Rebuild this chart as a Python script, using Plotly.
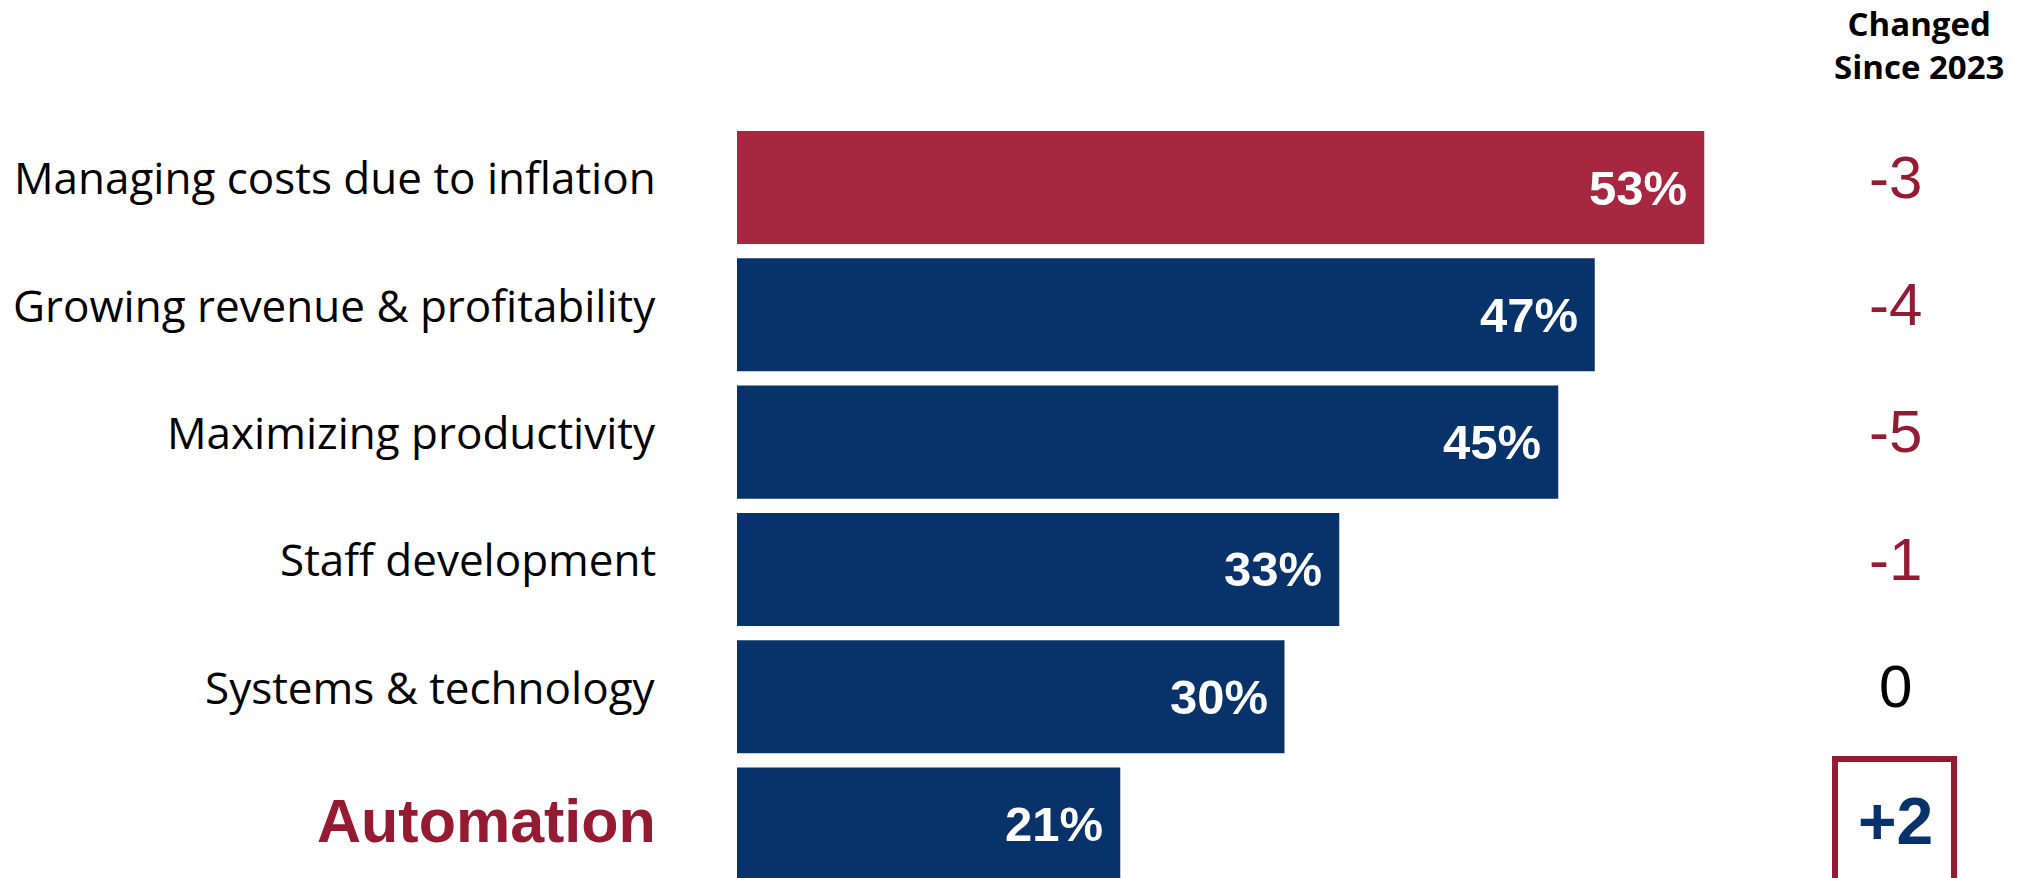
import plotly.graph_objects as go

# Survey data: share of respondents naming each priority, and change since 2023
categories = [
    "Managing costs due to inflation",
    "Growing revenue & profitability",
    "Maximizing productivity",
    "Staff development",
    "Systems & technology",
    "Automation",
]
shares = [53, 47, 45, 33, 30, 21]
changes = ["-3", "-4", "-5", "-1", "0", "+2"]

RED_BAR = "#A6273F"
NAVY = "#07336A"
DARK_RED = "#951B32"

W, H = 2037, 878
rows = list(range(len(categories)))
bar_colors = [RED_BAR] + [NAVY] * (len(categories) - 1)

fig = go.Figure(
    go.Bar(
        x=shares,
        y=rows,
        orientation="h",
        width=0.888,
        marker=dict(color=bar_colors, line=dict(width=0)),
        hoverinfo="skip",
    )
)

annotations = []
for i, (cat, val, chg) in enumerate(zip(categories, shares, changes)):
    highlight = cat == "Automation"
    text_dy = -0.02 if highlight else -0.08
    # category label on the left
    annotations.append(dict(
        x=658 / W, xref="paper", y=i + text_dy, yref="y",
        text=f"<b>{cat}</b>" if highlight else cat,
        xanchor="right", yanchor="middle", showarrow=False,
        font=dict(
            family="Liberation Sans" if highlight else "Open Sans",
            size=61 if highlight else 44,
            color=DARK_RED if highlight else "#000000",
        ),
    ))
    # value label inside the bar end
    annotations.append(dict(
        x=val, xref="x", y=i, yref="y",
        text=f"<b>{val}%</b>", xanchor="right", yanchor="middle",
        xshift=-15, showarrow=False,
        font=dict(family="Liberation Sans", size=49, color="#FFFFFF"),
    ))
    # change since 2023 column
    if chg.startswith("+"):
        ctext, ccolor, csize = f"<b>{chg}</b>", NAVY, 66
    elif chg == "0":
        ctext, ccolor, csize = chg, "#000000", 60
    else:
        ctext, ccolor, csize = chg, DARK_RED, 60
    annotations.append(dict(
        x=0.9303, xref="paper", y=i + text_dy, yref="y",
        text=ctext, xanchor="center", yanchor="middle", showarrow=False,
        font=dict(family="Liberation Sans", size=csize, color=ccolor),
    ))

annotations.append(dict(
    x=0.942, xref="paper", y=1 - 45 / H, yref="paper",
    text="<b>Changed</b><br><b>Since 2023</b>",
    xanchor="center", yanchor="middle", showarrow=False, align="center",
    font=dict(family="Open Sans", size=33, color="#000000"),
))

# frame around the Automation change value
last = len(categories) - 1
shapes = [dict(
    type="rect", xref="paper", yref="y",
    x0=1835 / W, x1=1954 / W, y0=last - 0.51, y1=last + 0.7,
    line=dict(color=DARK_RED, width=6), fillcolor="rgba(0,0,0,0)",
)]

px_per_unit = 18.25
x0_px = 737
fig.update_layout(
    width=W, height=H,
    margin=dict(l=0, r=0, t=0, b=0),
    paper_bgcolor="white", plot_bgcolor="white",
    showlegend=False,
    xaxis=dict(range=[-x0_px / px_per_unit, (W - x0_px) / px_per_unit],
               visible=False, fixedrange=True),
    yaxis=dict(range=[5.424, -1.473], visible=False, fixedrange=True),
    annotations=annotations,
    shapes=shapes,
)

fig.write_html("out.html", config={"displayModeBar": False})
